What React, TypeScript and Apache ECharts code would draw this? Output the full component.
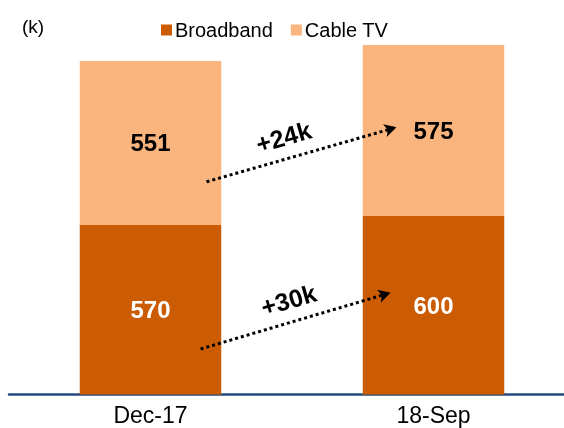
import React, { useEffect, useRef } from "react";
import * as echarts from "echarts";

const categories = ["Dec-17", "18-Sep"];
const broadband = [570, 600];
const cableTV = [551, 575];
const seriesNames = ["Broadband", "Cable TV"];
const unitLabel = "(k)";
// annotation arrows in data units: [x (category index space), y (value)]
const arrowBroadband = [[0.177, 153], [0.848, 342]];
const arrowCable = [[0.198, 715], [0.869, 898]];
const changeLabels = ["+24k", "+30k"];
const changeLabelPos = [[0.47, 866], [0.488, 318]];

const FONT = "'Liberation Sans', Arial, sans-serif";

export default function App() {
  const ref = useRef<HTMLDivElement>(null);
  useEffect(() => {
    if (!ref.current) return;
    const chart = echarts.init(ref.current, null, { renderer: "svg" });
    const arrowStyle = { color: "#000", width: 3, type: [3, 3] as any, opacity: 1 };
    chart.setOption({
      animation: false,
      textStyle: { fontFamily: FONT },
      title: {
        text: unitLabel,
        left: 17,
        top: 12,
        textStyle: { fontSize: 19, fontWeight: "normal", color: "#000", fontFamily: FONT },
      },
      legend: {
        data: seriesNames,
        left: 156,
        top: 15,
        icon: "rect",
        itemWidth: 11,
        itemHeight: 11,
        itemGap: 18,
        textStyle: { fontSize: 20, color: "#000", fontFamily: FONT, padding: [0, 0, 0, -2] },
      },
      grid: {
        left: 9,
        right: 0,
        top: 37.5,
        bottom: 33.5,
        containLabel: false,
        outerBoundsMode: "none",
      },
      xAxis: [
        {
          type: "category",
          data: categories,
          axisTick: { show: false },
          axisLine: { lineStyle: { color: "#254A79", width: 2.5 } },
          axisLabel: { fontSize: 23, color: "#000", margin: 9, fontFamily: FONT },
        },
        { type: "value", min: -0.5, max: 1.5, show: false },
      ],
      yAxis: { type: "value", min: 0, max: 1200, show: false, splitLine: { show: false } },
      series: [
        {
          name: seriesNames[0],
          type: "bar",
          stack: "total",
          barWidth: "50%",
          data: broadband,
          itemStyle: { color: "#CC5C04" },
          label: {
            show: true,
            position: "inside",
            color: "#fff",
            fontSize: 24,
            fontWeight: "bold",
            fontFamily: FONT,
          },
        },
        {
          name: seriesNames[1],
          type: "bar",
          stack: "total",
          barWidth: "50%",
          data: cableTV,
          itemStyle: { color: "#FAB47D" },
          label: {
            show: true,
            position: "inside",
            color: "#000",
            fontSize: 24,
            fontWeight: "bold",
            fontFamily: FONT,
          },
        },
        {
          type: "scatter",
          xAxisIndex: 1,
          symbolSize: 0,
          silent: true,
          itemStyle: { opacity: 1 },
          data: changeLabelPos.map((p, i) => ({ value: p, name: changeLabels[i] })),
          label: {
            show: true,
            position: "inside",
            formatter: (p: any) => p.name,
            rotate: 16,
            fontSize: 25,
            fontWeight: "bold",
            color: "#000",
            textBorderWidth: 0,
            opacity: 1,
            fontFamily: FONT,
          },
          markLine: {
            silent: true,
            symbol: ["none", "arrow"],
            symbolSize: [10, 12],
            label: { show: false },
            lineStyle: arrowStyle,
            data: [
              [{ coord: arrowCable[0], lineStyle: arrowStyle }, { coord: arrowCable[1] }],
              [{ coord: arrowBroadband[0], lineStyle: arrowStyle }, { coord: arrowBroadband[1] }],
            ],
          },
        },
      ],
    });
    return () => chart.dispose();
  }, []);
  return (
    <div
      ref={ref}
      style={{ position: "fixed", left: 0, top: 0, width: 575, height: 428 }}
    />
  );
}
